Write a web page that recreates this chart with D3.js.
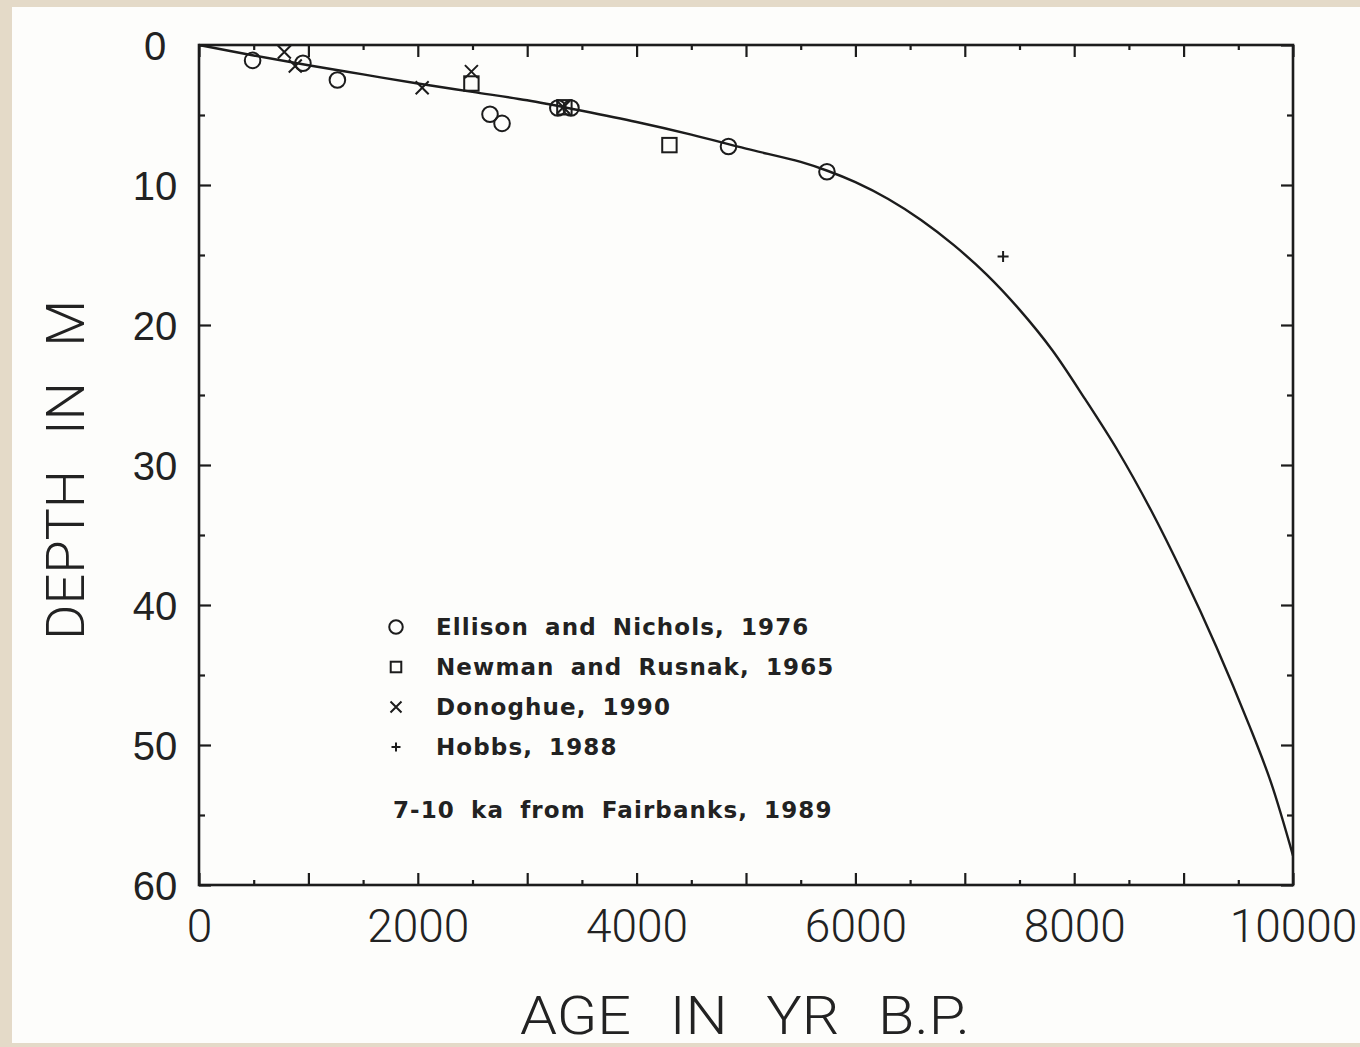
<!DOCTYPE html>
<html><head><meta charset="utf-8">
<script src="https://cdn.jsdelivr.net/npm/d3@7"></script>
<style>
html,body{margin:0;padding:0;background:#e4dac8;}
svg{display:block;}
</style></head>
<body>
<svg id="c" width="1360" height="1047"></svg>
<script>
// ---- data ----
const ageLabelTicks = [0, 2000, 4000, 6000, 8000, 10000];
const depthLabelTicks = [0, 10, 20, 30, 40, 50, 60];

const curveAge   = [0, 500, 1000, 1500, 2000, 2500, 3000, 3500, 4000, 4500, 5000, 5500, 5750, 6000, 6300, 6600, 6900, 7200, 7500, 7800, 8100, 8400, 8700, 9000, 9300, 9600, 9800, 10000];
const curveDepth = [0, 0.75, 1.45, 2.1, 2.75, 3.35, 3.95, 4.7, 5.5, 6.4, 7.4, 8.35, 9.0, 9.8, 11.0, 12.5, 14.3, 16.4, 18.9, 21.8, 25.3, 29.0, 33.2, 37.9, 43.0, 48.6, 52.7, 57.9];

const ellisonAge   = [490, 950, 1265, 2660, 2770, 3280, 3400, 4840, 5740];
const ellisonDepth = [1.1, 1.3, 2.5, 4.95, 5.6, 4.5, 4.5, 7.25, 9.05];
const newmanAge    = [2490, 3340, 4300];
const newmanDepth  = [2.75, 4.45, 7.15];
const donoghueAge  = [780, 880, 2040, 2490, 3330];
const donoghueDepth= [0.5, 1.5, 3.05, 1.9, 4.45];
const hobbsAge     = [7350];
const hobbsDepth   = [15.1];

const legendLabels = ["Ellison and Nichols, 1976", "Newman and Rusnak, 1965", "Donoghue, 1990", "Hobbs, 1988"];
const legendSymbols = ["circle", "square", "cross", "plus"];
const noteText = "7-10 ka from Fairbanks, 1989";
const xTitle = "AGE IN YR B.P.";
const yTitle = "DEPTH IN M";

// ---- drawing ----
const ink = "#1c1c1c";
const svg = d3.select("#c");
svg.append("rect").attr("x", 12).attr("y", 7).attr("width", 1348).attr("height", 1036).attr("fill", "#fdfdfb");

const x = d3.scaleLinear().domain([0, 10000]).range([199, 1293]);
const y = d3.scaleLinear().domain([0, 60]).range([45, 885]);

const major = d3.range(0, 10001, 1000), minor = d3.range(500, 10000, 1000);
const dMajor = d3.range(0, 61, 10), dMinor = d3.range(5, 60, 10);

function styleAxis(g){ g.select(".domain").remove(); g.selectAll("line").attr("stroke", ink).attr("stroke-width", 2.2); }

svg.append("g").attr("transform", `translate(0,${y(60)})`).call(d3.axisBottom(x).tickValues(major).tickSize(-12).tickFormat("")).call(styleAxis);
svg.append("g").attr("transform", `translate(0,${y(60)})`).call(d3.axisBottom(x).tickValues(minor).tickSize(-5).tickFormat("")).call(styleAxis);
svg.append("g").attr("transform", `translate(0,${y(0)})`).call(d3.axisTop(x).tickValues(major).tickSize(-12).tickFormat("")).call(styleAxis);
svg.append("g").attr("transform", `translate(0,${y(0)})`).call(d3.axisTop(x).tickValues(minor).tickSize(-5).tickFormat("")).call(styleAxis);
svg.append("g").attr("transform", `translate(${x(0)},0)`).call(d3.axisLeft(y).tickValues(dMajor).tickSize(-12).tickFormat("")).call(styleAxis);
svg.append("g").attr("transform", `translate(${x(0)},0)`).call(d3.axisLeft(y).tickValues(dMinor).tickSize(-6).tickFormat("")).call(styleAxis);
svg.append("g").attr("transform", `translate(${x(10000)},0)`).call(d3.axisRight(y).tickValues(dMajor).tickSize(-12).tickFormat("")).call(styleAxis);
svg.append("g").attr("transform", `translate(${x(10000)},0)`).call(d3.axisRight(y).tickValues(dMinor).tickSize(-6).tickFormat("")).call(styleAxis);

const xl = svg.append("g").attr("transform", `translate(0,${y(60)})`).call(d3.axisBottom(x).tickValues(ageLabelTicks).tickSize(0).tickPadding(24).tickFormat(d3.format("d")));
xl.select(".domain").remove();
xl.selectAll("text").attr("font-family", "Roboto, Liberation Sans, Arial, sans-serif").attr("font-weight", 300).attr("font-size", 46).attr("fill", "#222");

const yl = svg.append("g").attr("transform", `translate(${x(0)},0)`).call(d3.axisLeft(y).tickValues(depthLabelTicks).tickSize(0).tickPadding(22).tickFormat(d3.format("d")));
yl.select(".domain").remove();
yl.selectAll("text").attr("font-family", "Liberation Sans, Arial, sans-serif").attr("font-size", 40).attr("fill", "#222")
  .attr("text-anchor", "middle").attr("x", -44).attr("dy", "0.36em");

svg.append("rect").attr("x", x(0)).attr("y", y(0)).attr("width", x(10000) - x(0)).attr("height", y(60) - y(0))
  .attr("fill", "none").attr("stroke", ink).attr("stroke-width", 2.6);

const pts = curveAge.map((a, i) => [a, curveDepth[i]]);
svg.append("path").datum(pts).attr("fill", "none").attr("stroke", ink).attr("stroke-width", 2.4)
  .attr("d", d3.line().x(d => x(d[0])).y(d => y(d[1])).curve(d3.curveCatmullRom.alpha(0.5)));

function drawSym(g, type, cx, cy, s){
  if (type === "circle") g.append("circle").attr("cx", cx).attr("cy", cy).attr("r", s*0.52).attr("fill", "none").attr("stroke", ink).attr("stroke-width", 2);
  else if (type === "square") g.append("rect").attr("x", cx - s*0.48).attr("y", cy - s*0.48).attr("width", s*0.96).attr("height", s*0.96).attr("fill", "none").attr("stroke", ink).attr("stroke-width", 2);
  else if (type === "cross") g.append("path").attr("d", `M${cx-s/2},${cy-s/2}L${cx+s/2},${cy+s/2}M${cx-s/2},${cy+s/2}L${cx+s/2},${cy-s/2}`).attr("stroke", ink).attr("stroke-width", 2);
  else if (type === "plus") g.append("path").attr("d", `M${cx-s/2},${cy}L${cx+s/2},${cy}M${cx},${cy-s/2}L${cx},${cy+s/2}`).attr("stroke", ink).attr("stroke-width", 2);
}
const series = [
  {t: "circle", a: ellisonAge, d: ellisonDepth, s: 15},
  {t: "square", a: newmanAge, d: newmanDepth, s: 15},
  {t: "cross", a: donoghueAge, d: donoghueDepth, s: 13},
  {t: "plus", a: hobbsAge, d: hobbsDepth, s: 11}
];
const sg = svg.append("g");
series.forEach(se => se.a.forEach((a, i) => drawSym(sg, se.t, x(a), y(se.d[i]), se.s)));

const legendFont = t => t.attr("font-family", "DejaVu Sans, sans-serif").attr("font-size", 23).attr("font-weight", "bold")
    .attr("letter-spacing", 1.1).attr("word-spacing", 7).attr("fill", "#222");
const lg = svg.append("g");
legendLabels.forEach((lab, i) => {
  const yy = 627 + i * 40;
  drawSym(lg, legendSymbols[i], 396, yy, legendSymbols[i] === "circle" ? 13 : (legendSymbols[i] === "plus" ? 9 : 11));
  lg.append("text").attr("x", 436).attr("y", yy).attr("dy", "0.36em").text(lab).call(legendFont);
});
lg.append("text").attr("x", 393).attr("y", 810).attr("dy", "0.36em").text(noteText).call(legendFont);

svg.append("text").attr("x", 520).attr("y", 1034).text(xTitle)
  .attr("font-family", "Roboto, Liberation Sans, Arial, sans-serif").attr("font-weight", 300).attr("font-size", 54).attr("fill", "#222")
  .attr("word-spacing", 22).attr("textLength", 450).attr("lengthAdjust", "spacingAndGlyphs");
svg.append("text").attr("transform", "translate(84,640) rotate(-90)").text(yTitle)
  .attr("font-family", "Roboto, Liberation Sans, Arial, sans-serif").attr("font-weight", 300).attr("font-size", 54).attr("fill", "#222")
  .attr("word-spacing", 22).attr("textLength", 340).attr("lengthAdjust", "spacingAndGlyphs");
</script>
</body></html>
